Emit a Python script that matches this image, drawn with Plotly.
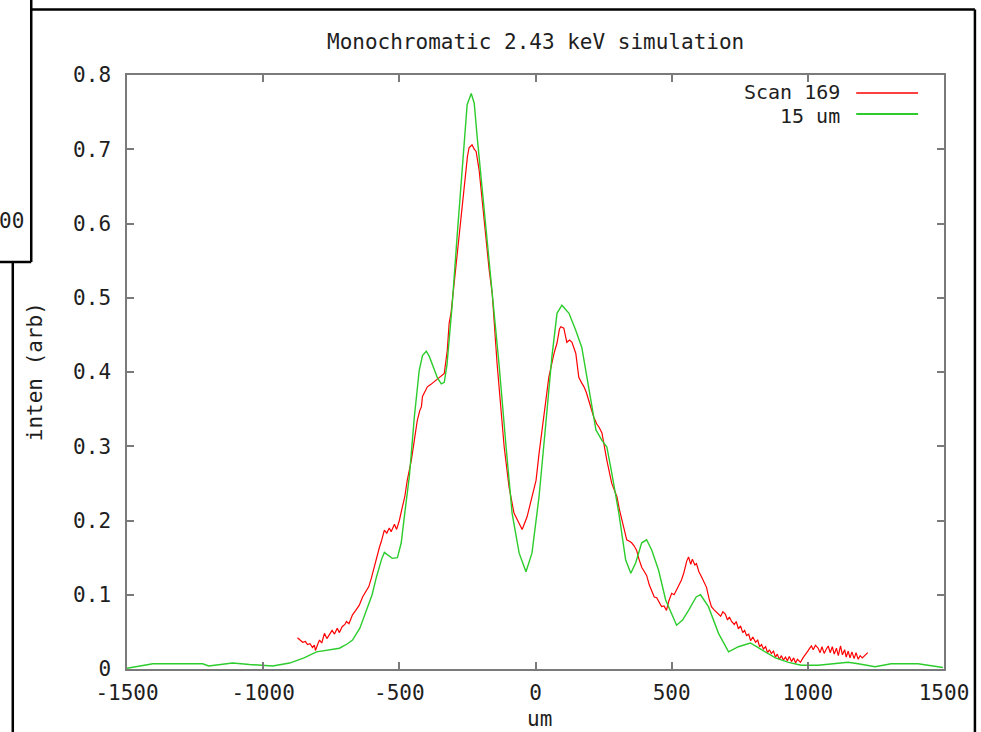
import plotly.graph_objects as go

# ---- data ----
green_x = [-1500, -1450, -1405, -1300, -1222, -1200, -1160, -1112, -1050, -1000, -965, -903, -850, -804, -760,
           -720, -690, -672, -645, -621, -600, -584, -565, -555, -540, -526, -507, -493, -480, -463, -445, -427,
           -415, -401, -390, -379, -360, -346, -335, -325, -317, -306, -288, -262, -251, -236, -225, -214, -200,
           -181, -159, -134, -108, -86, -60, -35, -13, 13, 38, 60, 79, 97, 123, 148, 170, 196, 222, 244, 262,
           280, 306, 331, 350, 368, 390, 408, 427, 452, 478, 518, 540, 562, 590, 606, 635, 672, 709, 745, 789,
           830, 881, 929, 976, 1038, 1100, 1148, 1185, 1247, 1306, 1405, 1496]
green_y = [0.001, 0.004, 0.007, 0.007, 0.007, 0.004, 0.006, 0.008, 0.006, 0.005, 0.004, 0.008, 0.015, 0.023, 0.026,
           0.028, 0.034, 0.039, 0.055, 0.078, 0.100, 0.124, 0.148, 0.157, 0.153, 0.149, 0.150, 0.170, 0.210, 0.260,
           0.339, 0.402, 0.422, 0.428, 0.421, 0.410, 0.392, 0.384, 0.386, 0.410, 0.445, 0.490, 0.582, 0.716, 0.760,
           0.775, 0.762, 0.716, 0.662, 0.582, 0.500, 0.411, 0.299, 0.210, 0.156, 0.131, 0.156, 0.232, 0.331, 0.420,
           0.479, 0.490, 0.479, 0.456, 0.433, 0.375, 0.322, 0.308, 0.299, 0.264, 0.210, 0.147, 0.129, 0.143, 0.170,
           0.174, 0.160, 0.133, 0.093, 0.059, 0.066, 0.079, 0.097, 0.100, 0.084, 0.048, 0.023, 0.030, 0.035, 0.026,
           0.015, 0.009, 0.005, 0.005, 0.007, 0.009, 0.007, 0.003, 0.007, 0.007, 0.002]

red_x = [-874, -862, -855, -845, -837, -828, -819, -812, -808, -800, -793, -785, -775, -766, -756, -747, -738, -728,
         -720, -710, -700, -694, -685, -672, -660, -647, -635, -621, -612, -603, -593, -584, -573, -566, -555, -546,
         -537, -530, -518, -510, -500, -489, -480, -471, -456, -445, -434, -425, -419, -415, -408, -397, -385, -372,
         -360, -346, -335, -324, -317, -310, -288, -262, -250, -244, -233, -225, -218, -207, -189, -170, -159, -152,
         -141, -115, -97, -79, -67, -60, -49, -40, -31, -16, 2, 13, 31, 49, 68, 79, 88, 93, 104, 110, 115, 125, 134,
         148, 159, 170, 178, 187, 196, 205, 214, 225, 233, 244, 252, 262, 280, 290, 299, 308, 317, 326, 335, 345,
         353, 362, 371, 380, 390, 400, 408, 418, 427, 436, 445, 455, 463, 472, 481, 490, 500, 509, 518, 527, 536,
         545, 555, 562, 570, 576, 585, 591, 600, 610, 619, 628, 637, 646, 655, 663, 672, 680, 688, 697, 705, 712,
         720, 730, 737, 745, 753, 761, 768, 775, 783, 790, 798, 808, 816, 823, 830, 837, 845, 852, 859, 866, 874,
         881, 888, 895, 903, 910, 918, 925, 932, 940, 948, 955, 962, 973, 982, 991, 1000, 1007, 1013, 1020, 1028,
         1038, 1045, 1052, 1060, 1068, 1075, 1082, 1090, 1097, 1105, 1112, 1120, 1127, 1135, 1141, 1148, 1155,
         1162, 1170, 1177, 1185, 1192, 1200, 1210, 1220]
red_y = [0.042, 0.038, 0.036, 0.037, 0.033, 0.034, 0.029, 0.032, 0.025, 0.033, 0.039, 0.035, 0.048, 0.041, 0.046,
         0.052, 0.047, 0.055, 0.049, 0.057, 0.060, 0.064, 0.061, 0.073, 0.079, 0.086, 0.097, 0.106, 0.111, 0.122,
         0.137, 0.148, 0.164, 0.172, 0.187, 0.183, 0.190, 0.185, 0.195, 0.188, 0.200, 0.218, 0.232, 0.254, 0.281,
         0.308, 0.335, 0.348, 0.353, 0.367, 0.372, 0.380, 0.383, 0.387, 0.390, 0.394, 0.398, 0.429, 0.466, 0.480,
         0.560, 0.649, 0.690, 0.702, 0.706, 0.700, 0.697, 0.672, 0.604, 0.537, 0.506, 0.470, 0.411, 0.299, 0.245,
         0.210, 0.200, 0.196, 0.188, 0.198, 0.205, 0.227, 0.254, 0.290, 0.344, 0.393, 0.425, 0.439, 0.458, 0.461,
         0.459, 0.448, 0.440, 0.443, 0.440, 0.425, 0.393, 0.385, 0.380, 0.372, 0.362, 0.350, 0.339, 0.330, 0.326,
         0.318, 0.300, 0.281, 0.250, 0.240, 0.232, 0.215, 0.201, 0.188, 0.174, 0.172, 0.170, 0.166, 0.160, 0.148,
         0.137, 0.131, 0.126, 0.113, 0.106, 0.097, 0.096, 0.090, 0.084, 0.085, 0.079, 0.092, 0.102, 0.100, 0.106,
         0.114, 0.120, 0.130, 0.145, 0.151, 0.141, 0.148, 0.140, 0.142, 0.131, 0.124, 0.118, 0.110, 0.095, 0.084,
         0.080, 0.077, 0.075, 0.071, 0.077, 0.074, 0.066, 0.070, 0.064, 0.060, 0.064, 0.054, 0.058, 0.049, 0.052,
         0.045, 0.047, 0.038, 0.043, 0.036, 0.039, 0.030, 0.033, 0.027, 0.030, 0.022, 0.026, 0.021, 0.024, 0.016,
         0.020, 0.013, 0.018, 0.012, 0.016, 0.011, 0.017, 0.010, 0.015, 0.008, 0.013, 0.009, 0.015, 0.019, 0.024,
         0.028, 0.031, 0.026, 0.032, 0.028, 0.022, 0.030, 0.021, 0.027, 0.031, 0.022, 0.030, 0.020, 0.028, 0.018,
         0.031, 0.019, 0.026, 0.016, 0.024, 0.015, 0.023, 0.014, 0.022, 0.013, 0.018, 0.015, 0.018, 0.022]

series_names = ["Scan 169", "15 um"]
x_ticks = [-1500, -1000, -500, 0, 500, 1000, 1500]
x_ticktext = ["-1500", "-1000", "-500", "0", "500", "1000", "1500"]
y_ticks = [0, 0.1, 0.2, 0.3, 0.4, 0.5, 0.6, 0.7, 0.8]
y_ticktext = ["0", "0.1", "0.2", "0.3", "0.4", "0.5", "0.6", "0.7", "0.8"]
title_text = "Monochromatic 2.43 keV simulation"
x_title = "um"
y_title = "inten (arb)"
stray_text = "00"

# ---- layout geometry ----
W, H = 981, 732
L, R, T, B = 127, 946, 75, 669
FONT = "DejaVu Sans Mono"
FS = 21
LEG_FS = 20
RED = "#ff0000"
GREEN = "#2ccc2c"
AXC = "#7a7a7a"
TXT = "#1e1e1e"

def px(p):
    return (p - L) / (R - L)

def py(p):
    return (B - p) / (B - T)

fig = go.Figure()
fig.add_trace(go.Scatter(x=red_x, y=red_y, mode="lines", name=series_names[0],
                         line=dict(color=RED, width=1.2), showlegend=False))
fig.add_trace(go.Scatter(x=green_x, y=green_y, mode="lines", name=series_names[1],
                         line=dict(color=GREEN, width=1.4), showlegend=False))

axis_common = dict(showline=True, linecolor=AXC, linewidth=1.5, mirror="ticks", ticks="inside",
                   ticklen=7, tickcolor=AXC, tickwidth=1.5, showgrid=False, zeroline=False,
                   tickfont=dict(family=FONT, size=FS, color=TXT))
fig.update_xaxes(range=[-1500, 1500], tickvals=x_ticks, ticktext=x_ticktext,
                 ticklabelstandoff=4, **axis_common)
fig.update_yaxes(range=[0, 0.8], tickvals=y_ticks, ticktext=y_ticktext,
                 ticklabelstandoff=10, **axis_common)

anns = [
    dict(text=title_text, x=px(537), y=py(42), xanchor="center", yanchor="middle", size=FS),
    dict(text=y_title, x=px(35), y=py(372), xanchor="center", yanchor="middle", textangle=-90, size=FS),
    dict(text=x_title, x=px(541), y=py(719), xanchor="center", yanchor="middle", size=FS),
    dict(text=series_names[0], x=px(844), y=py(91.5), xanchor="right", yanchor="middle", size=LEG_FS),
    dict(text=series_names[1], x=px(844), y=py(115.5), xanchor="right", yanchor="middle", size=LEG_FS),
    dict(text=stray_text, x=px(26), y=py(221), xanchor="right", yanchor="middle", size=FS),
]
for a in anns:
    sz = a.pop("size")
    a.update(xref="paper", yref="paper", showarrow=False,
             font=dict(family=FONT, size=sz, color=TXT))

shapes = [
    # legend samples
    dict(type="line", x0=px(858), x1=px(920), y0=py(93), y1=py(93), line=dict(color=RED, width=1.5)),
    dict(type="line", x0=px(858), x1=px(920), y0=py(114), y1=py(114), line=dict(color=GREEN, width=1.8)),
    # outer window frame
    dict(type="line", x0=px(31), x1=px(977), y0=py(9.5), y1=py(9.5), line=dict(color="black", width=2.5)),
    dict(type="line", x0=px(977), x1=px(977), y0=py(9.5), y1=py(740), line=dict(color="black", width=2.5)),
    dict(type="line", x0=px(12.5), x1=px(12.5), y0=py(262), y1=py(740), line=dict(color="black", width=2.5)),
    # stray box top-left
    dict(type="line", x0=px(31), x1=px(31), y0=py(-5), y1=py(262), line=dict(color="black", width=2.5)),
    dict(type="line", x0=px(-5), x1=px(31), y0=py(262), y1=py(262), line=dict(color="black", width=2.5)),
]
for s in shapes:
    s.update(xref="paper", yref="paper", layer="above")

fig.update_layout(width=W, height=H, margin=dict(l=L, r=W - R, t=T, b=H - B, pad=0),
                  plot_bgcolor="white", paper_bgcolor="white", showlegend=False,
                  annotations=anns, shapes=shapes)

fig.write_html("out.html")
